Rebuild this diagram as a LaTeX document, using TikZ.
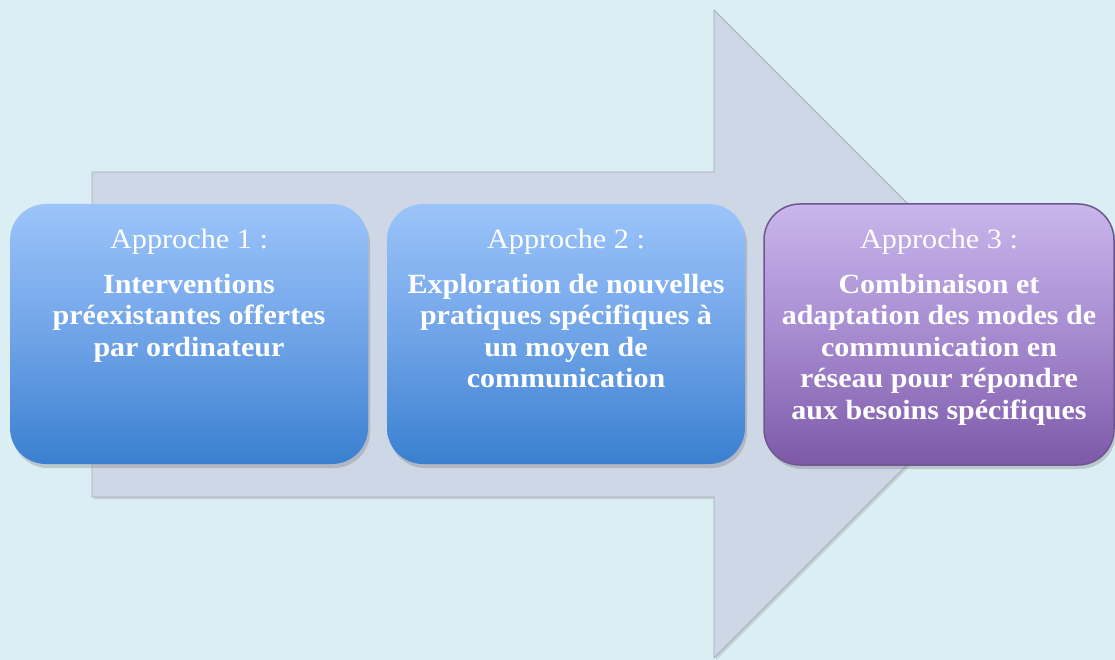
\documentclass[tikz,border=0pt]{standalone}
\usepackage{fontspec}
\setmainfont[FakeStretch=1.08]{Liberation Serif}
\usetikzlibrary{shadows,calc}
\definecolor{bg}{HTML}{DBEEF3}
\definecolor{arrowfill}{HTML}{CDD7E6}
\definecolor{arrowedge}{HTML}{A3AEB8}
\definecolor{bluetop}{HTML}{9CC4FA}
\definecolor{bluemid}{HTML}{70A4E8}
\definecolor{bluebot}{HTML}{3A80D0}
\definecolor{purtop}{HTML}{C9B6EC}
\definecolor{purmid}{HTML}{A68BD0}
\definecolor{purbot}{HTML}{7D59A8}
\definecolor{puredge}{HTML}{6E5690}
\tikzset{
  x=1pt,y=-1pt,
  stagebox/.style={rounded corners=36pt, drop shadow={shadow xshift=2pt,shadow yshift=-4pt,opacity=0.3,fill=black!55}},
  bluebox/.style={stagebox, top color=bluetop, bottom color=bluebot, middle color=bluemid, draw=none},
  purbox/.style={stagebox, top color=purtop, bottom color=purbot, middle color=purmid, draw=puredge, line width=1.5pt},
  titletext/.style={text=white, font=\fontsize{28}{32}\selectfont, inner sep=0pt},
  bodytext/.style={text=white, font=\bfseries\fontsize{27.8}{31.5}\selectfont, align=center, inner sep=0pt, anchor=north}
}
\begin{document}
\begin{tikzpicture}
\useasboundingbox (0,0) rectangle (1115,660);
\fill[bg] (0,0) rectangle (1115,660);
% big arrow
\coordinate (s1) at (92,172);
\coordinate (h1) at (714,172);
\coordinate (h2) at (714,10);
\coordinate (tip) at (1038,334);
\coordinate (h3) at (714,658);
\coordinate (h4) at (714,497);
\coordinate (s2) at (92,497);
\filldraw[fill=arrowfill, draw=arrowedge, line width=0.8pt, drop shadow={shadow xshift=2pt,shadow yshift=-2pt,opacity=0.25}]
  (s1) -- (h1) -- (h2) -- (tip) -- (h3) -- (h4) -- (s2) -- cycle;
% boxes
\path[bluebox] (10,204) rectangle (368,464);
\node (b1) at (189,334) {};
\path[bluebox] (387,204) rectangle (745,464);
\node (b2) at (566,334) {};
\path[purbox] (764,204) rectangle (1114,465);
\node (b3) at (939,334) {};
% texts
\node[titletext] (t1) at (189,242) {Approche 1 :};
\node[bodytext] (d1) at (189,274) {Interventions\\préexistantes offertes\\par ordinateur};
\node[titletext] (t2) at (566,242) {Approche 2 :};
\node[bodytext] (d2) at (566,274) {Exploration de nouvelles\\pratiques spécifiques à\\un moyen de\\communication};
\node[titletext] (t3) at (939,242) {Approche 3 :};
\node[bodytext] (d3) at (939,274) {Combinaison et\\adaptation des modes de\\communication en\\réseau pour répondre\\aux besoins spécifiques};
\end{tikzpicture}
\end{document}
